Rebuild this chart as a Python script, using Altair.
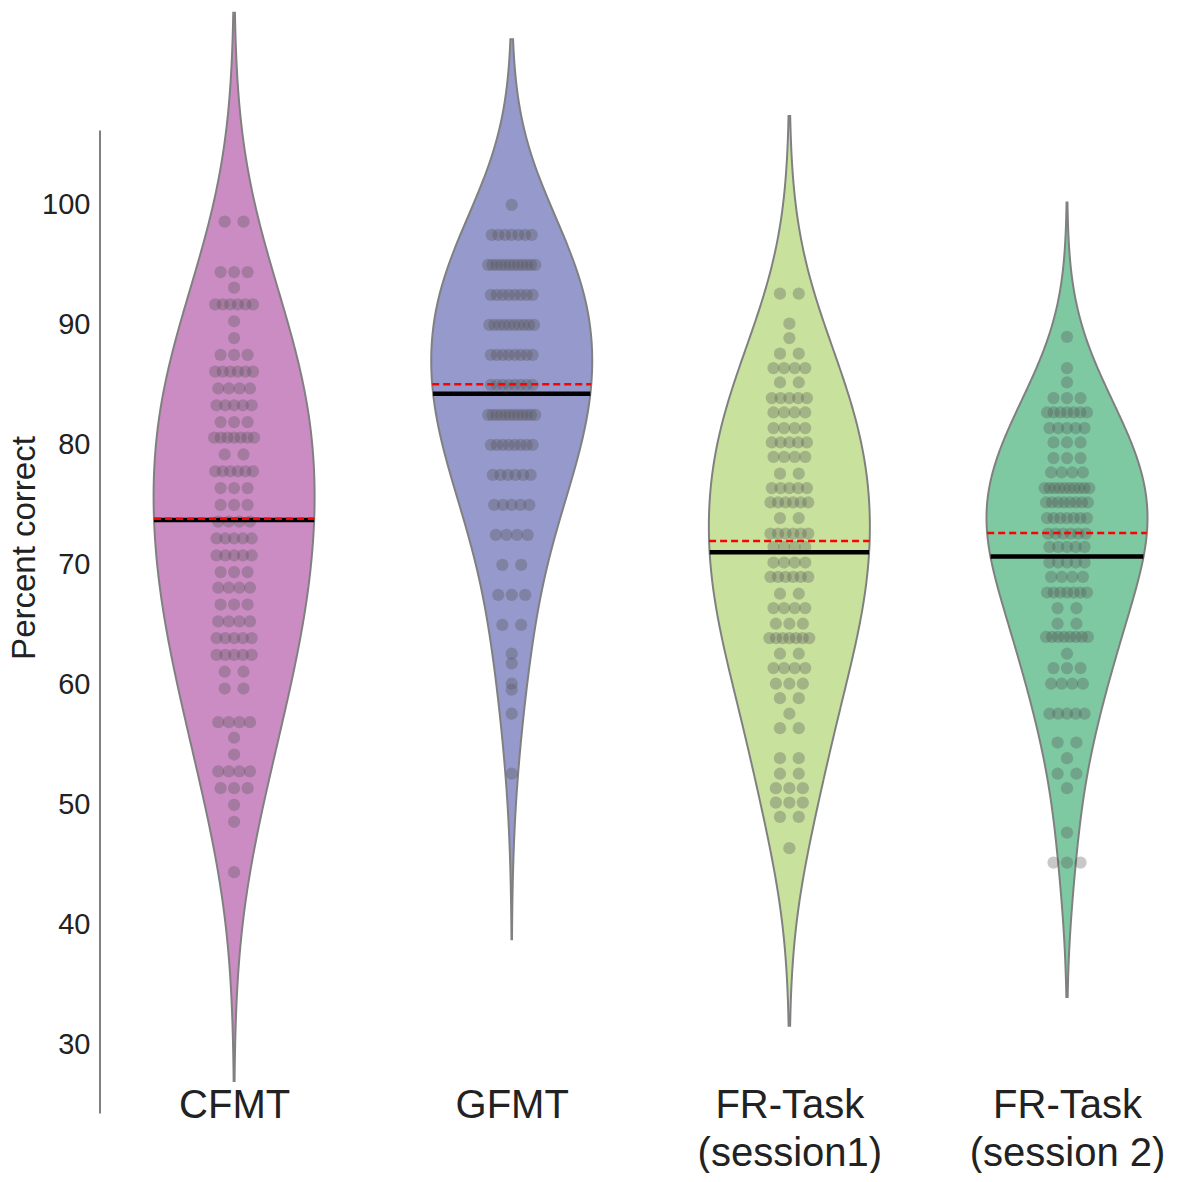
import json
import altair as alt
import pandas as pd

# ---------------- data ----------------
categories = ["CFMT", "GFMT", "FR-Task\n(session1)", "FR-Task\n(session 2)"]

cfmt_values = [98.6, 94.4, 93.1, 91.7, 90.3, 88.9, 87.5, 86.1, 84.7, 83.3, 81.9, 80.6,
               79.2, 77.8, 76.4, 75.0, 73.6, 72.2, 70.8, 69.4, 68.1, 66.7, 65.3, 63.9,
               62.5, 61.1, 59.7, 56.9, 55.6, 54.2, 52.8, 51.4, 50.0, 48.6, 44.4]
cfmt_counts = [2, 3, 1, 6, 1, 1, 3, 6, 4, 5, 3, 7,
               2, 6, 3, 3, 4, 5, 5, 3, 4, 3, 4, 5,
               5, 2, 2, 4, 1, 1, 4, 3, 1, 1, 1]

gfmt_values = [100.0, 97.5, 95.0, 92.5, 90.0, 87.5, 85.0, 82.5, 80.0, 77.5, 75.0,
               72.5, 70.0, 67.5, 65.0, 62.6, 61.8, 60.1, 59.6, 57.6, 52.6]
gfmt_counts = [1, 7, 12, 8, 10, 8, 8, 12, 8, 6, 5,
               4, 2, 3, 2, 1, 1, 1, 1, 1, 1]

fr1_values = [92.6, 90.1, 88.9, 87.6, 86.4, 85.2, 83.9, 82.7, 81.4, 80.2, 79.0, 77.6,
              76.4, 75.2, 73.9, 72.6, 71.5, 70.2, 69.0, 67.6, 66.4, 65.1, 63.9, 62.6,
              61.4, 60.1, 58.9, 57.6, 56.4, 53.9, 52.6, 51.4, 50.2, 49.0, 46.4]
fr1_counts = [2, 1, 1, 2, 4, 2, 5, 4, 4, 5, 4, 2,
              5, 6, 2, 6, 4, 4, 6, 2, 4, 3, 7, 2,
              4, 3, 2, 1, 2, 2, 2, 3, 3, 2, 1]

fr2_values = [89.0, 86.4, 85.2, 83.9, 82.7, 81.4, 80.2, 78.9, 77.7, 76.4, 75.2, 73.9,
              72.6, 71.5, 70.2, 69.0, 67.7, 66.4, 65.1, 64.0, 62.6, 61.4, 60.1, 57.6,
              55.2, 53.9, 52.6, 51.4, 47.7, 45.2]
fr2_counts = [1, 1, 1, 3, 7, 5, 3, 3, 4, 10, 8, 7,
              6, 5, 5, 4, 7, 2, 2, 8, 1, 3, 4, 5,
              2, 1, 2, 1, 1, 3]

means = [73.85, 85.05, 72.0, 72.65]     # red dashed lines
medians = [73.75, 84.25, 71.05, 70.7]   # black solid lines

# ---------------- style ----------------
bandwidths = [8.7, 6.9, 7.4, 5.6]
colors = ["#CB8CC4", "#9599CB", "#C8E29E", "#7EC9A2"]
OUTLINE = "#808080"
FONT = "Liberation Sans"
TEXT = "#222222"

W, H = 1070, 1067
X_DOMAIN = [-0.483, 3.371]
Y_DOMAIN = [27.0, 115.9]
AXIS_TOP, AXIS_BOTTOM = 106.2, 24.3
PX_PER_UNIT = W / (X_DOMAIN[1] - X_DOMAIN[0])
HALF_W = 80.5 / PX_PER_UNIT
STEPS = 300
SPAN_A, SPAN_B = 18.8, 11.8   # swarm row spread (px)

groups = [(cfmt_values, cfmt_counts), (gfmt_values, gfmt_counts),
          (fr1_values, fr1_counts), (fr2_values, fr2_counts)]

rows = []
for gi, (vals, cnts) in enumerate(groups):
    for v, c in zip(vals, cnts):
        for _ in range(c):
            rows.append({"g": gi, "v": v})
df = pd.DataFrame(rows)

label_list = json.dumps([c.replace("\n", "|") for c in categories])
x_axis = alt.Axis(values=[0, 1, 2, 3], domain=False, ticks=False, grid=False,
                  labelExpr=f"split({label_list}[datum.value], '|')",
                  labelFontSize=40, labelLineHeight=48, labelPadding=4,
                  labelColor=TEXT, labelOverlap=False, labelLimit=0,
                  labelFont=FONT, title=None)
y_axis = alt.Axis(values=[30, 40, 50, 60, 70, 80, 90, 100], domain=False, ticks=False,
                  tickSize=0, grid=False, labelFontSize=29, labelPadding=10,
                  labelColor=TEXT, labelFont=FONT, title="Percent correct",
                  titleFontSize=33, titleFontWeight="normal", titleColor=TEXT,
                  titleFont=FONT, titlePadding=0)
x_scale = alt.Scale(domain=X_DOMAIN, nice=False, zero=False)
y_scale = alt.Scale(domain=Y_DOMAIN, nice=False, zero=False)


def X(field):
    return alt.X(field, type="quantitative", scale=x_scale, axis=x_axis)


def Y(field):
    return alt.Y(field, type="quantitative", scale=y_scale, axis=y_axis)


layers = []

axis_line = alt.Chart(pd.DataFrame({"y0": [AXIS_TOP], "y1": [AXIS_BOTTOM]})).mark_rule(
    color=OUTLINE, strokeWidth=2
).encode(x=alt.value(0), y=Y("y0:Q"), y2=alt.Y2("y1:Q"))
layers.append(axis_line)

bases = []
for gi, (vals, cnts) in enumerate(groups):
    bw = bandwidths[gi]
    lo, hi = min(vals) - 2 * bw, max(vals) + 2 * bw
    base = (
        alt.Chart(df)
        .transform_filter(alt.datum.g == gi)
        .transform_density("v", as_=["v", "dens"], bandwidth=bw, extent=[lo, hi], steps=STEPS)
        .transform_joinaggregate(maxd="max(dens)")
        .transform_calculate(half=f"datum.dens / datum.maxd * {HALF_W}")
        .transform_calculate(xl=f"{gi} - datum.half", xr=f"{gi} + datum.half")
    )
    bases.append(base)
    violin = base.mark_area(
        orient="horizontal", fill=colors[gi], fillOpacity=1, stroke=OUTLINE, strokeWidth=2
    ).encode(y=Y("v:Q"), x=X("xl:Q"), x2=alt.X2("xr:Q"))
    layers.append(violin)

points = (
    alt.Chart(df)
    .transform_joinaggregate(n="count()", groupby=["g", "v"])
    .transform_window(k="row_number()", groupby=["g", "v"])
    .transform_calculate(span=f"datum.n > 1 ? ({SPAN_A} + {SPAN_B} * log(datum.n - 1)) : 0")
    .transform_calculate(
        xp=f"datum.g + (datum.n > 1 ? (datum.k - 1 - (datum.n - 1) / 2) * datum.span / (datum.n - 1) : 0) / {PX_PER_UNIT}"
    )
    .mark_circle(size=150, color="#555555", opacity=0.32)
    .encode(x=X("xp:Q"), y=Y("v:Q"))
)
layers.append(points)


def stat_line(base, m, color, width, dash=None):
    mk = dict(color=color, strokeWidth=width)
    if dash is not None:
        mk["strokeDash"] = dash
    return (
        base.transform_calculate(m=f"{m}", d=f"abs(datum.v - {m})")
        .transform_window(r="row_number()", sort=[alt.SortField("d", order="ascending")])
        .transform_filter(alt.datum.r == 1)
        .mark_rule(**mk)
        .encode(x=X("xl:Q"), x2=alt.X2("xr:Q"), y=Y("m:Q"))
    )


for gi, base in enumerate(bases):
    layers.append(stat_line(base, medians[gi], "black", 4.5))
for gi, base in enumerate(bases):
    layers.append(stat_line(base, means[gi], "#FF0000", 2.5, [7, 4]))

chart = (
    alt.layer(*layers)
    .properties(width=W, height=H, padding=0, background="white")
    .configure_view(strokeWidth=0)
)

chart.save("out.html", embed_options={"renderer": "svg", "actions": False})
